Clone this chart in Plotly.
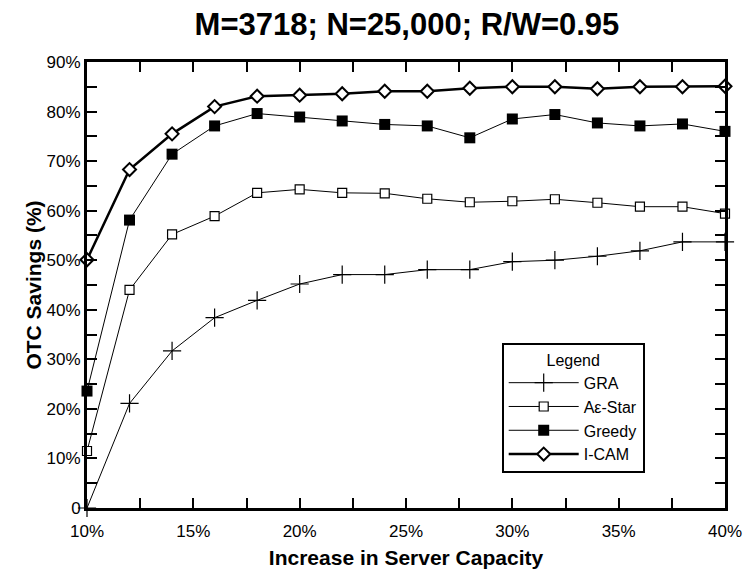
import plotly.graph_objects as go

# ---- data ----
capacity_increase = [10, 12, 14, 16, 18, 20, 22, 24, 26, 28, 30, 32, 34, 36, 38, 40]
gra = [0.0, 21.1, 31.7, 38.4, 41.9, 45.2, 47.1, 47.1, 48.1, 48.1, 49.7, 50.0, 50.8, 51.9, 53.7, 53.7]
astar = [11.5, 44.0, 55.2, 58.9, 63.6, 64.3, 63.6, 63.5, 62.4, 61.7, 61.9, 62.3, 61.6, 60.8, 60.8, 59.4]
greedy = [23.6, 58.1, 71.4, 77.1, 79.6, 78.9, 78.1, 77.4, 77.1, 74.7, 78.5, 79.4, 77.7, 77.1, 77.5, 76.0]
icam = [50.1, 68.3, 75.5, 81.0, 83.1, 83.3, 83.6, 84.1, 84.1, 84.7, 85.0, 85.0, 84.6, 85.0, 85.0, 85.1]

x_tickvals = [10, 15, 20, 25, 30, 35, 40]
x_ticktext = ["10%", "15%", "20%", "25%", "30%", "35%", "40%"]
y_tickvals = [0, 10, 20, 30, 40, 50, 60, 70, 80, 90]
y_ticktext = ["0", "10%", "20%", "30%", "40%", "50%", "60%", "70%", "80%", "90%"]

FONT = "Liberation Sans, Arial, sans-serif"

fig = go.Figure()
fig.add_trace(go.Scatter(
    x=capacity_increase, y=gra, name="GRA", mode="lines+markers",
    line=dict(color="black", width=1),
    marker=dict(symbol="cross-thin-open", size=13, color="black", line=dict(width=1.2, color="black")),
    cliponaxis=False))
fig.add_trace(go.Scatter(
    x=capacity_increase, y=astar, name="Aε-Star", mode="lines+markers",
    line=dict(color="black", width=1),
    marker=dict(symbol="square", size=9, color="white", line=dict(width=1.2, color="black")),
    cliponaxis=False))
fig.add_trace(go.Scatter(
    x=capacity_increase, y=greedy, name="Greedy", mode="lines+markers",
    line=dict(color="black", width=1),
    marker=dict(symbol="square", size=11, color="black", line=dict(width=0, color="black")),
    cliponaxis=False))
fig.add_trace(go.Scatter(
    x=capacity_increase, y=icam, name="I-CAM", mode="lines+markers",
    line=dict(color="black", width=2.5),
    marker=dict(symbol="diamond", size=10, color="white", line=dict(width=2, color="black")),
    cliponaxis=False))

fig.update_layout(
    width=744, height=571,
    margin=dict(l=87, r=19, t=62, b=63),
    paper_bgcolor="white", plot_bgcolor="white",
    font=dict(family=FONT, color="black", size=17),
    title=dict(text="<b>M=3718; N=25,000; R/W=0.95</b>", x=0.547, xanchor="center",
               y=0.957, yanchor="middle", font=dict(size=31, family=FONT)),
    showlegend=True,
    legend=dict(
        x=0.65, y=0.37, xanchor="left", yanchor="top",
        bgcolor="white", bordercolor="black", borderwidth=2,
        font=dict(size=16, family=FONT),
        title=dict(text="Legend", side="top center", font=dict(size=16, family=FONT)),
        itemwidth=70, tracegroupgap=0,
    ),
)

fig.update_xaxes(
    range=[10, 40], showgrid=False, zeroline=False, automargin=False,
    showline=True, linewidth=3, linecolor="black", mirror="allticks",
    ticks="inside", ticklen=10, tickwidth=2, tickcolor="black",
    tickvals=x_tickvals, ticktext=x_ticktext, tickfont=dict(size=17),
    ticklabelstandoff=6,
    minor=dict(dtick=2.5, tick0=10, ticks="inside", ticklen=10, tickwidth=2, tickcolor="black", showgrid=False),
    title=dict(text="<b>Increase in Server Capacity</b>", font=dict(size=21), standoff=10),
)
fig.update_yaxes(
    range=[0, 90], showgrid=False, zeroline=False, automargin=False,
    showline=True, linewidth=3, linecolor="black", mirror="allticks",
    ticks="inside", ticklen=10, tickwidth=2, tickcolor="black",
    tickvals=y_tickvals, ticktext=y_ticktext, tickfont=dict(size=17),
    minor=dict(dtick=5, tick0=0, ticks="inside", ticklen=10, tickwidth=2, tickcolor="black", showgrid=False),
    title=dict(text="<b>OTC Savings (%)</b>", font=dict(size=21), standoff=0),
)

fig.write_html("out.html")
